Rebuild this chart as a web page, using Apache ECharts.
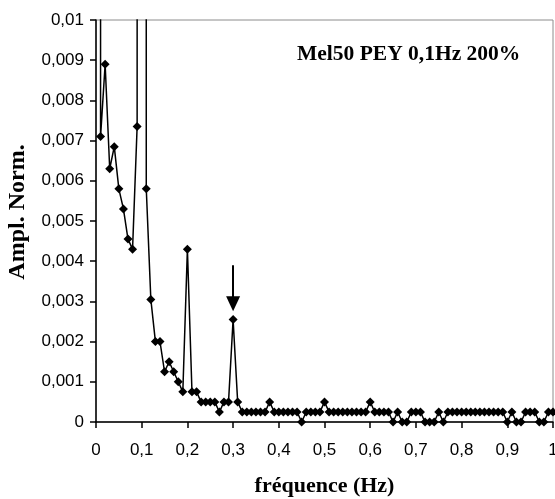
<!DOCTYPE html>
<html>
<head>
<meta charset="utf-8">
<script src="https://cdn.jsdelivr.net/npm/echarts@6/dist/echarts.min.js"></script>
<style>
  html, body { margin: 0; padding: 0; background: #fff; }
  #chart { width: 555px; height: 499px; }
</style>
</head>
<body>
<div id="chart"></div>
<script>
// Frequency grid (Hz)
const frequencies = [
  0.00, 0.01, 0.02, 0.03, 0.04, 0.05, 0.06, 0.07, 0.08, 0.09,
  0.10, 0.11, 0.12, 0.13, 0.14, 0.15, 0.16, 0.17, 0.18, 0.19,
  0.20, 0.21, 0.22, 0.23, 0.24, 0.25, 0.26, 0.27, 0.28, 0.29,
  0.30, 0.31, 0.32, 0.33, 0.34, 0.35, 0.36, 0.37, 0.38, 0.39,
  0.40, 0.41, 0.42, 0.43, 0.44, 0.45, 0.46, 0.47, 0.48, 0.49,
  0.50, 0.51, 0.52, 0.53, 0.54, 0.55, 0.56, 0.57, 0.58, 0.59,
  0.60, 0.61, 0.62, 0.63, 0.64, 0.65, 0.66, 0.67, 0.68, 0.69,
  0.70, 0.71, 0.72, 0.73, 0.74, 0.75, 0.76, 0.77, 0.78, 0.79,
  0.80, 0.81, 0.82, 0.83, 0.84, 0.85, 0.86, 0.87, 0.88, 0.89,
  0.90, 0.91, 0.92, 0.93, 0.94, 0.95, 0.96, 0.97, 0.98, 0.99,
  1.00
];

// Normalised amplitude spectrum (DC and 0.1 Hz peaks run far above the axis)
const amplitudes = [
  1.0,     0.0071,  0.0089,  0.0063,  0.00685, 0.0058,  0.0053,  0.00455, 0.0043,  0.00735,
  1.0,     0.0058,  0.00305, 0.002,   0.002,   0.00125, 0.0015,  0.00125, 0.001,   0.00075,
  0.0043,  0.00075, 0.00075, 0.0005,  0.0005,  0.0005,  0.0005,  0.00025, 0.0005,  0.0005,
  0.00255, 0.0005,  0.00025, 0.00025, 0.00025, 0.00025, 0.00025, 0.00025, 0.0005,  0.00025,
  0.00025, 0.00025, 0.00025, 0.00025, 0.00025, 0,       0.00025, 0.00025, 0.00025, 0.00025,
  0.0005,  0.00025, 0.00025, 0.00025, 0.00025, 0.00025, 0.00025, 0.00025, 0.00025, 0.00025,
  0.0005,  0.00025, 0.00025, 0.00025, 0.00025, 0,       0.00025, 0,       0,       0.00025,
  0.00025, 0.00025, 0,       0,       0,       0.00025, 0,       0.00025, 0.00025, 0.00025,
  0.00025, 0.00025, 0.00025, 0.00025, 0.00025, 0.00025, 0.00025, 0.00025, 0.00025, 0.00025,
  0,       0.00025, 0,       0,       0.00025, 0.00025, 0.00025, 0,       0,       0.00025,
  0.00025
];

// Arrow pointing at the 0.3 Hz harmonic: [frequency, from amplitude, to amplitude]
const arrowMark = [0.30, 0.0039, 0.00294];

const chartTitle = 'Mel50 PEY 0,1Hz 200%';
const xName = 'fréquence (Hz)';
const yName = 'Ampl. Norm.';

const points = frequencies.map((f, i) => [f, amplitudes[i]]);

const decimalComma = (v, digits) => String(+v.toFixed(digits)).replace('.', ',');

const serifBold = {
  fontFamily: 'Liberation Serif',
  fontWeight: 'bold',
  color: '#000'
};

const chart = echarts.init(document.getElementById('chart'), null, { renderer: 'canvas' });

chart.setOption({
  animation: false,
  backgroundColor: '#ffffff',
  title: {
    text: chartTitle,
    left: 297,
    top: 43,
    padding: 0,
    textStyle: Object.assign({ fontSize: 21.5 }, serifBold)
  },
  grid: {
    left: 96,
    right: 2,
    top: 20,
    bottom: 77,
    outerBoundsMode: 'none',
    containLabel: false,
    show: true,
    borderColor: '#8c8c8c',
    borderWidth: 1,
    backgroundColor: 'transparent'
  },
  xAxis: {
    type: 'value',
    min: 0,
    max: 1,
    interval: 0.1,
    name: xName,
    nameLocation: 'middle',
    nameGap: 53,
    nameTextStyle: Object.assign({ fontSize: 22 }, serifBold),
    axisLine: { show: true, onZero: false, lineStyle: { color: '#000', width: 1.5 } },
    axisTick: { show: true, inside: false, length: 6, lineStyle: { color: '#000', width: 1.5 } },
    axisLabel: {
      margin: 20,
      fontFamily: 'Liberation Sans',
      fontSize: 17,
      color: '#000',
      formatter: v => decimalComma(v, 1)
    },
    splitLine: { show: false }
  },
  yAxis: {
    type: 'value',
    min: 0,
    max: 0.01,
    interval: 0.001,
    name: yName,
    nameLocation: 'middle',
    nameGap: 66,
    nameRotate: 90,
    nameTextStyle: Object.assign({ fontSize: 24, padding: [0, 0, 0, 18] }, serifBold),
    axisLine: { show: true, lineStyle: { color: '#000', width: 1.5 } },
    axisTick: { show: true, inside: false, length: 6, lineStyle: { color: '#000', width: 1.5 } },
    axisLabel: {
      margin: 12,
      fontFamily: 'Liberation Sans',
      fontSize: 17,
      color: '#000',
      formatter: v => decimalComma(v, 3)
    },
    splitLine: { show: false }
  },
  series: [{
    type: 'line',
    data: points,
    clip: true,
    symbol: 'diamond',
    symbolSize: 9,
    showAllSymbol: true,
    itemStyle: { color: '#000' },
    lineStyle: { color: '#000', width: 1.5 },
    markLine: {
      silent: true,
      symbol: ['none', 'triangle'],
      symbolSize: [14, 15],
      label: { show: false },
      lineStyle: { color: '#000', width: 2, type: 'solid' },
      data: [[
        { coord: [arrowMark[0], arrowMark[1]] },
        { coord: [arrowMark[0], arrowMark[2]] }
      ]]
    }
  }]
});
</script>
</body>
</html>
